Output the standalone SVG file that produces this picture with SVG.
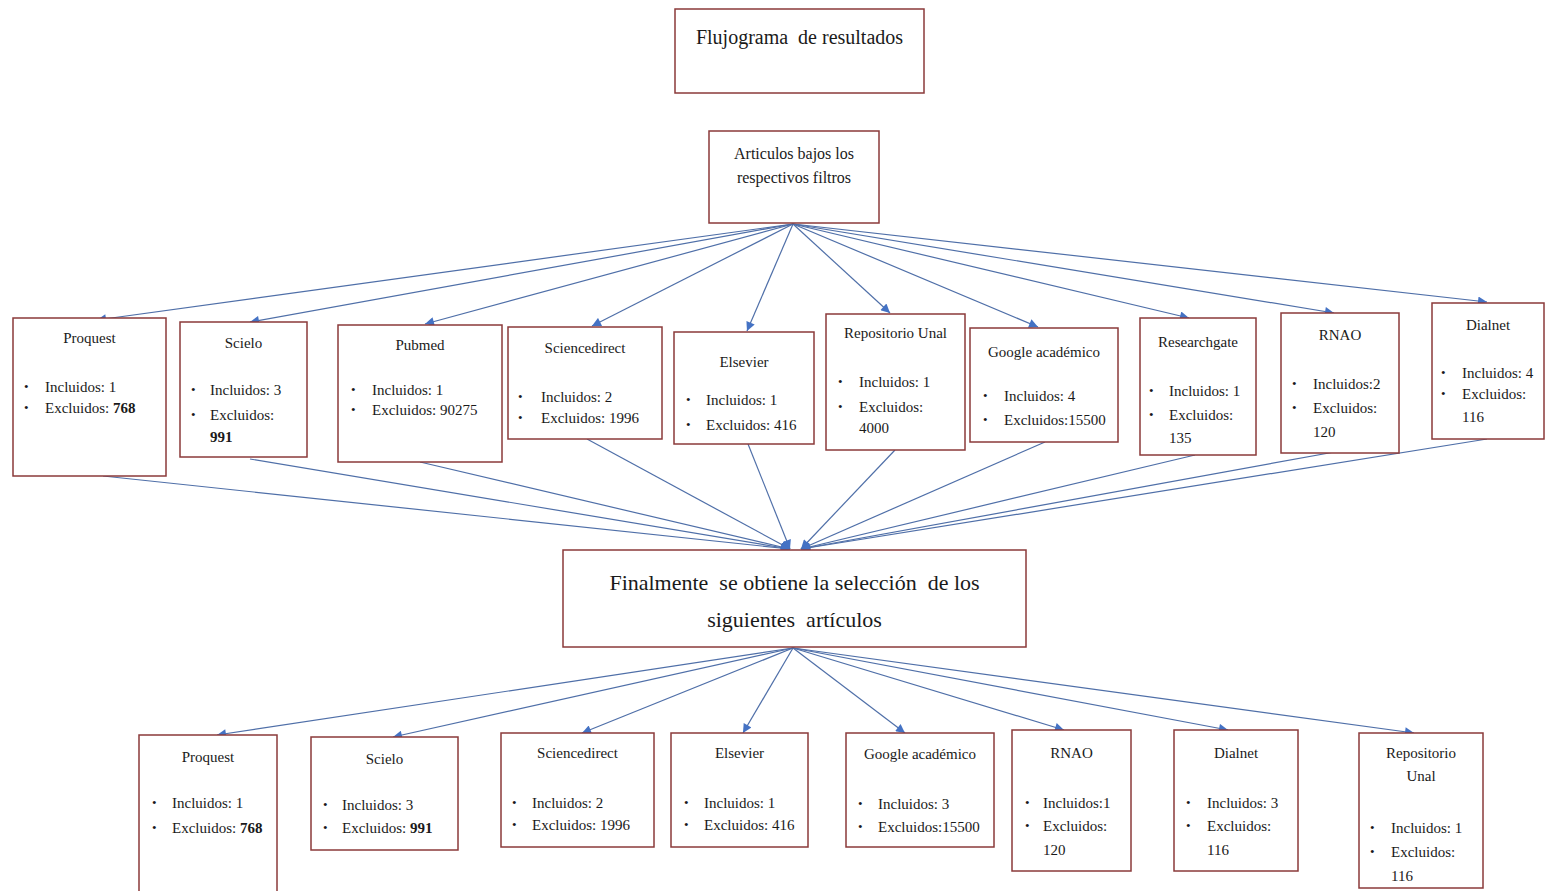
<svg xmlns="http://www.w3.org/2000/svg" width="1545" height="891" viewBox="0 0 1545 891" font-family="'Liberation Serif', 'Times New Roman', 'DejaVu Serif', serif">
<defs>
<marker id="ah" viewBox="0 0 10 10" refX="10" refY="5" markerWidth="11" markerHeight="9" markerUnits="userSpaceOnUse" orient="auto">
<path d="M0,0 L10,5 L0,10 z" fill="#4472c4"/>
</marker>
</defs>
<style>
.box{fill:#ffffff;stroke:#8b3a3a;stroke-width:1.5}
text{font-family:'Liberation Serif','Times New Roman','DejaVu Serif',serif;fill:#1a1a1a}
.t{font-size:15px;text-anchor:middle}
.b{font-size:15px}
.bul{font-size:13px}
.bd{font-weight:bold}
.ar{stroke:#4f6fa8;stroke-width:1.2;fill:none;marker-end:url(#ah)}
</style>
<rect width="1545" height="891" fill="#ffffff"/>

<g id="connectors">
<line class="ar" x1="793" y1="224" x2="97" y2="320"/>
<line class="ar" x1="793" y1="224" x2="250" y2="322"/>
<line class="ar" x1="793" y1="224" x2="425" y2="324"/>
<line class="ar" x1="793" y1="224" x2="592" y2="326"/>
<line class="ar" x1="793" y1="224" x2="747" y2="331"/>
<line class="ar" x1="793" y1="224" x2="890" y2="313"/>
<line class="ar" x1="793" y1="224" x2="1038" y2="327"/>
<line class="ar" x1="793" y1="224" x2="1189" y2="318"/>
<line class="ar" x1="793" y1="224" x2="1334" y2="313"/>
<line class="ar" x1="793" y1="224" x2="1487" y2="302"/>

<line class="ar" x1="103" y1="476" x2="790" y2="549"/>
<line class="ar" x1="250" y1="459" x2="790" y2="549"/>
<line class="ar" x1="420" y1="462" x2="790" y2="549"/>
<line class="ar" x1="587" y1="439" x2="790" y2="549"/>
<line class="ar" x1="748" y1="444" x2="790" y2="549"/>
<line class="ar" x1="895" y1="450" x2="801" y2="549"/>
<line class="ar" x1="1045" y1="442" x2="801" y2="549"/>
<line class="ar" x1="1195" y1="455" x2="801" y2="549"/>
<line class="ar" x1="1340" y1="451" x2="801" y2="549"/>
<line class="ar" x1="1487" y1="439" x2="801" y2="549"/>

<line class="ar" x1="793" y1="648" x2="217" y2="735"/>
<line class="ar" x1="793" y1="648" x2="393" y2="737"/>
<line class="ar" x1="793" y1="648" x2="582" y2="733"/>
<line class="ar" x1="793" y1="648" x2="743" y2="733"/>
<line class="ar" x1="793" y1="648" x2="905" y2="733"/>
<line class="ar" x1="793" y1="648" x2="1064" y2="730"/>
<line class="ar" x1="793" y1="648" x2="1228" y2="730"/>
<line class="ar" x1="793" y1="648" x2="1414" y2="733"/>
</g>

<g id="title">
<rect class="box" x="675" y="9" width="249" height="84"/>
<text x="799.5" y="44" font-size="20" text-anchor="middle" xml:space="preserve">Flujograma  de resultados</text>
</g>

<g id="articulos">
<rect class="box" x="709" y="131" width="170" height="92"/>
<text x="794" y="159" font-size="16" text-anchor="middle">Articulos bajos los</text>
<text x="794" y="183" font-size="16" text-anchor="middle">respectivos filtros</text>
</g>

<g id="r1-proquest">
<rect class="box" x="13" y="318" width="153" height="158"/>
<text class="t" x="89.5" y="343">Proquest</text>
<text class="bul" x="24" y="391">•</text><text class="b" x="45" y="392">Incluidos: 1</text>
<text class="bul" x="24" y="412">•</text><text class="b" x="45" y="413">Excluidos: <tspan class="bd">768</tspan></text>
</g>
<g id="r1-scielo">
<rect class="box" x="180" y="322" width="127" height="135"/>
<text class="t" x="243.5" y="348">Scielo</text>
<text class="bul" x="191" y="394">•</text><text class="b" x="210" y="395">Incluidos: 3</text>
<text class="bul" x="191" y="419">•</text><text class="b" x="210" y="420">Excluidos:</text>
<text class="b bd" x="210" y="442">991</text>
</g>
<g id="r1-pubmed">
<rect class="box" x="338" y="325" width="164" height="137"/>
<text class="t" x="420" y="350">Pubmed</text>
<text class="bul" x="351" y="394">•</text><text class="b" x="372" y="395">Incluidos: 1</text>
<text class="bul" x="351" y="414">•</text><text class="b" x="372" y="415">Excluidos: 90275</text>
</g>
<g id="r1-sciencedirect">
<rect class="box" x="508" y="327" width="154" height="112"/>
<text class="t" x="585" y="353">Sciencedirect</text>
<text class="bul" x="518" y="401">•</text><text class="b" x="541" y="402">Incluidos: 2</text>
<text class="bul" x="518" y="422">•</text><text class="b" x="541" y="423">Excluidos: 1996</text>
</g>
<g id="r1-elsevier">
<rect class="box" x="674" y="332" width="140" height="112"/>
<text class="t" x="744" y="367">Elsevier</text>
<text class="bul" x="686" y="404">•</text><text class="b" x="706" y="405">Incluidos: 1</text>
<text class="bul" x="686" y="429">•</text><text class="b" x="706" y="430">Excluidos: 416</text>
</g>
<g id="r1-repositorio">
<rect class="box" x="826" y="314" width="139" height="136"/>
<text class="t" x="895.5" y="338">Repositorio Unal</text>
<text class="bul" x="838" y="386">•</text><text class="b" x="859" y="387">Incluidos: 1</text>
<text class="bul" x="838" y="411">•</text><text class="b" x="859" y="412">Excluidos:</text>
<text class="b" x="859" y="433">4000</text>
</g>
<g id="r1-google">
<rect class="box" x="970" y="328" width="148" height="114"/>
<text class="t" x="1044" y="357">Google académico</text>
<text class="bul" x="983" y="400">•</text><text class="b" x="1004" y="401">Incluidos: 4</text>
<text class="bul" x="983" y="424">•</text><text class="b" x="1004" y="425">Excluidos:15500</text>
</g>
<g id="r1-researchgate">
<rect class="box" x="1140" y="318" width="116" height="137"/>
<text class="t" x="1198" y="347">Researchgate</text>
<text class="bul" x="1149" y="395">•</text><text class="b" x="1169" y="396">Incluidos: 1</text>
<text class="bul" x="1149" y="419">•</text><text class="b" x="1169" y="420">Excluidos:</text>
<text class="b" x="1169" y="443">135</text>
</g>
<g id="r1-rnao">
<rect class="box" x="1281" y="313" width="118" height="140"/>
<text class="t" x="1340" y="340">RNAO</text>
<text class="bul" x="1292" y="388">•</text><text class="b" x="1313" y="389">Incluidos:2</text>
<text class="bul" x="1292" y="412">•</text><text class="b" x="1313" y="413">Excluidos:</text>
<text class="b" x="1313" y="437">120</text>
</g>
<g id="r1-dialnet">
<rect class="box" x="1432" y="303" width="112" height="136"/>
<text class="t" x="1488" y="330">Dialnet</text>
<text class="bul" x="1441" y="377">•</text><text class="b" x="1462" y="378">Incluidos: 4</text>
<text class="bul" x="1441" y="398">•</text><text class="b" x="1462" y="399">Excluidos:</text>
<text class="b" x="1462" y="422">116</text>
</g>

<g id="finalmente">
<rect class="box" x="563" y="550" width="463" height="97"/>
<text x="794.5" y="590" font-size="22" text-anchor="middle" xml:space="preserve">Finalmente  se obtiene la selección  de los</text>
<text x="794.5" y="627" font-size="22" text-anchor="middle" xml:space="preserve">siguientes  artículos</text>
</g>

<g id="r2-proquest">
<rect class="box" x="139" y="735" width="138" height="165"/>
<text class="t" x="208" y="762">Proquest</text>
<text class="bul" x="152" y="807">•</text><text class="b" x="172" y="808">Incluidos: 1</text>
<text class="bul" x="152" y="832">•</text><text class="b" x="172" y="833">Excluidos: <tspan class="bd">768</tspan></text>
</g>
<g id="r2-scielo">
<rect class="box" x="311" y="737" width="147" height="113"/>
<text class="t" x="384.5" y="764">Scielo</text>
<text class="bul" x="323" y="809">•</text><text class="b" x="342" y="810">Incluidos: 3</text>
<text class="bul" x="323" y="832">•</text><text class="b" x="342" y="833">Excluidos: <tspan class="bd">991</tspan></text>
</g>
<g id="r2-sciencedirect">
<rect class="box" x="501" y="733" width="153" height="114"/>
<text class="t" x="577.5" y="758">Sciencedirect</text>
<text class="bul" x="512" y="807">•</text><text class="b" x="532" y="808">Incluidos: 2</text>
<text class="bul" x="512" y="829">•</text><text class="b" x="532" y="830">Excluidos: 1996</text>
</g>
<g id="r2-elsevier">
<rect class="box" x="671" y="733" width="137" height="114"/>
<text class="t" x="739.5" y="758">Elsevier</text>
<text class="bul" x="684" y="807">•</text><text class="b" x="704" y="808">Incluidos: 1</text>
<text class="bul" x="684" y="829">•</text><text class="b" x="704" y="830">Excluidos: 416</text>
</g>
<g id="r2-google">
<rect class="box" x="846" y="733" width="148" height="114"/>
<text class="t" x="920" y="759">Google académico</text>
<text class="bul" x="858" y="808">•</text><text class="b" x="878" y="809">Incluidos: 3</text>
<text class="bul" x="858" y="831">•</text><text class="b" x="878" y="832">Excluidos:15500</text>
</g>
<g id="r2-rnao">
<rect class="box" x="1012" y="730" width="119" height="141"/>
<text class="t" x="1071.5" y="758">RNAO</text>
<text class="bul" x="1025" y="807">•</text><text class="b" x="1043" y="808">Incluidos:1</text>
<text class="bul" x="1025" y="830">•</text><text class="b" x="1043" y="831">Excluidos:</text>
<text class="b" x="1043" y="855">120</text>
</g>
<g id="r2-dialnet">
<rect class="box" x="1174" y="730" width="124" height="141"/>
<text class="t" x="1236" y="758">Dialnet</text>
<text class="bul" x="1186" y="807">•</text><text class="b" x="1207" y="808">Incluidos: 3</text>
<text class="bul" x="1186" y="830">•</text><text class="b" x="1207" y="831">Excluidos:</text>
<text class="b" x="1207" y="855">116</text>
</g>
<g id="r2-repositorio">
<rect class="box" x="1359" y="733" width="124" height="155"/>
<text class="t" x="1421" y="758">Repositorio</text>
<text class="t" x="1421" y="781">Unal</text>
<text class="bul" x="1370" y="832">•</text><text class="b" x="1391" y="833">Incluidos: 1</text>
<text class="bul" x="1370" y="856">•</text><text class="b" x="1391" y="857">Excluidos:</text>
<text class="b" x="1391" y="881">116</text>
</g>
</svg>
